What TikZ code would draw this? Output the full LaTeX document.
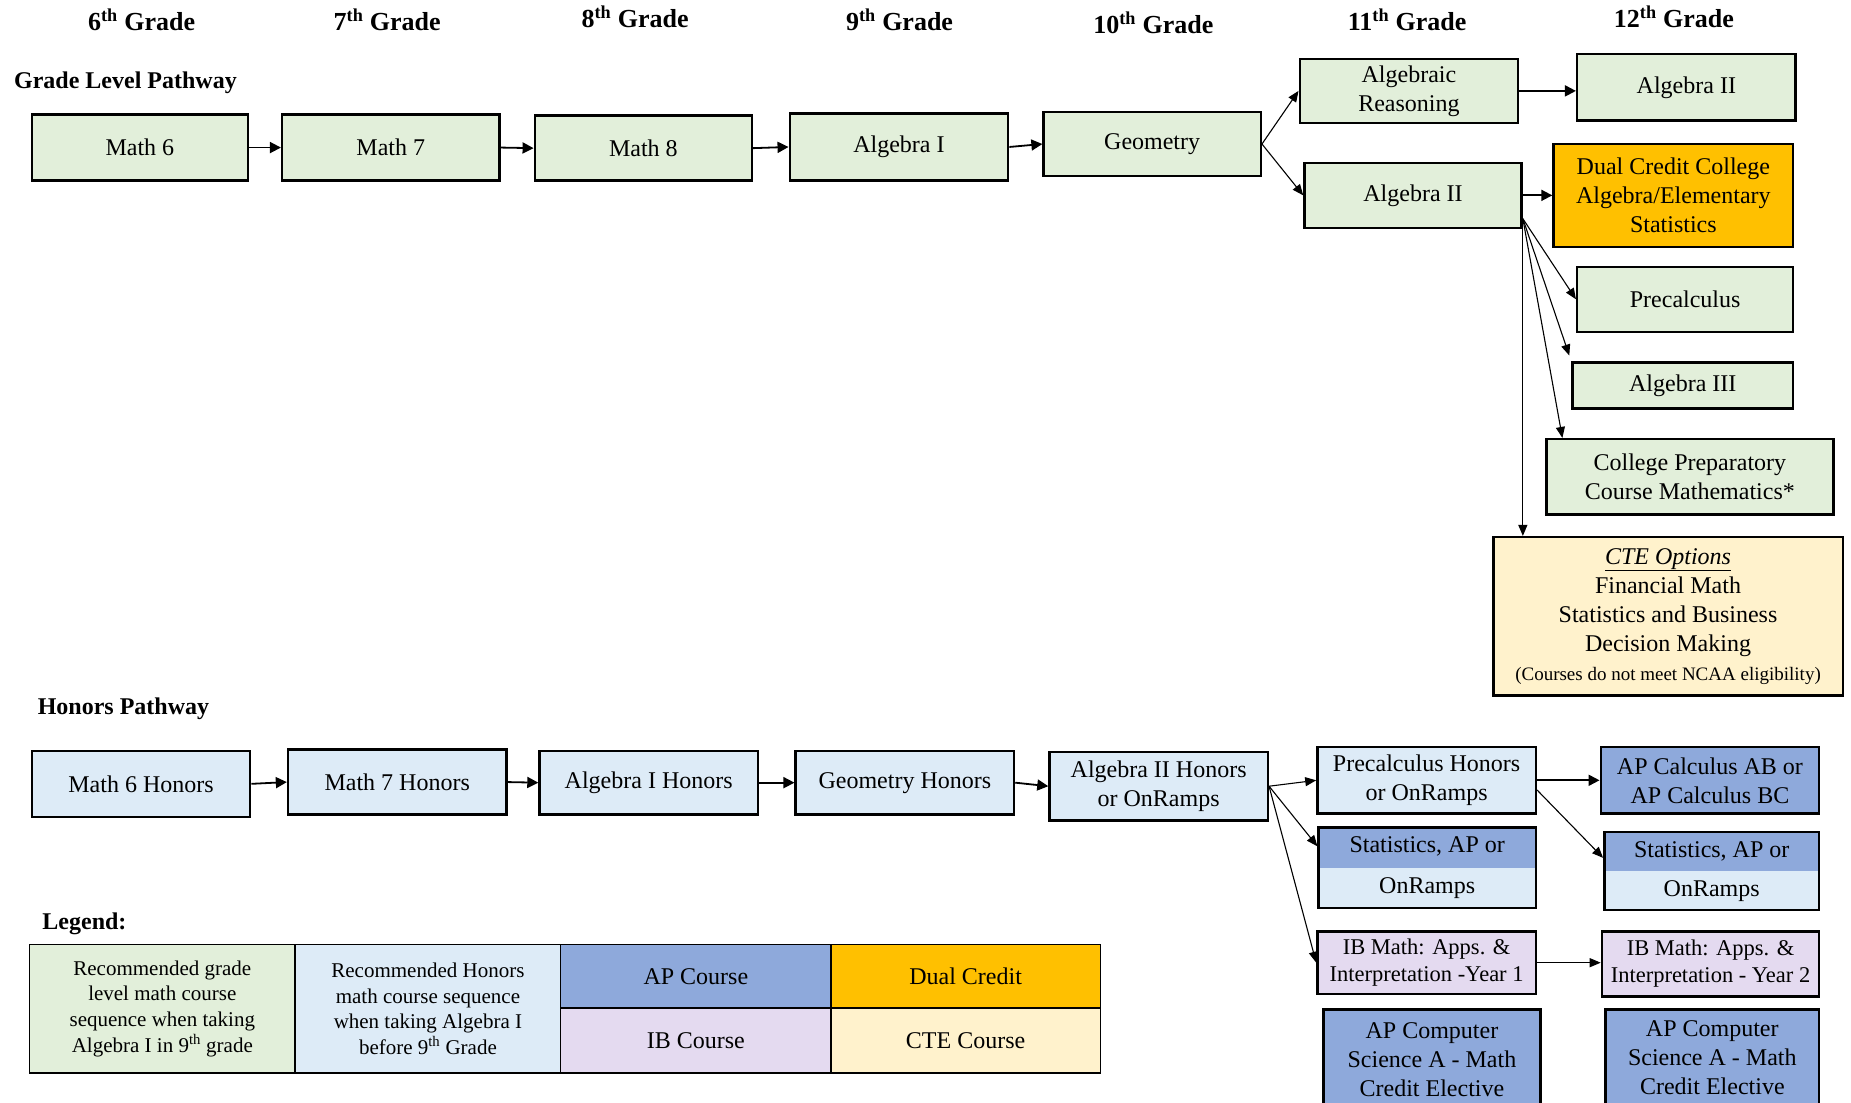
\documentclass[tikz,border=0pt]{standalone}
\usepackage{fontspec}
\setmainfont{Liberation Serif}
\usetikzlibrary{arrows.meta}
\definecolor{grn}{HTML}{E2EFDA}
\definecolor{lblue}{HTML}{DDEBF7}
\definecolor{apblue}{HTML}{8EA9DB}
\definecolor{ibpur}{HTML}{E4DAF0}
\definecolor{dcorange}{HTML}{FFC000}
\definecolor{ctecream}{HTML}{FFF2CC}
\newcommand\bx[7]{%
  \pgfmathsetmacro\bxw{(#5-#3)*1.1805}%
  \pgfmathsetmacro\bxh{(#6-#4)*1.1805}%
  \node[#1, minimum width=\bxw pt, minimum height=\bxh pt] (#2) at ({(#3+#5)/2},{(#4+#6)/2}) {#7};}
\begin{document}
\begin{tikzpicture}[x=1.1805pt,y=-1.1805pt,
  box/.style={draw=black, line width=2.4pt, inner sep=0pt, align=center, font=\fontsize{24}{29}\selectfont},
  gb/.style={box, fill=grn},
  hb/.style={box, fill=lblue},
  ab/.style={box, fill=apblue},
  ibb/.style={box, fill=ibpur, font=\fontsize{22.5}{27}\selectfont},
  statbox/.style={box, fill=lblue, path picture={\fill[apblue] (path picture bounding box.north west) rectangle (path picture bounding box.east);}},
  leg/.style={draw=black, line width=1.3pt, inner sep=0pt, align=center, font=\fontsize{24}{29}\selectfont},
  legsmall/.style={leg, font=\fontsize{21}{25.6}\selectfont},
  arr/.style={line width=1.8pt, -{Triangle[length=11pt,width=11pt]}},
  thinarr/.style={line width=1.1pt, -{Triangle[length=11pt,width=9pt]}},
  hdr/.style={font=\fontsize{26}{30}\selectfont\bfseries, anchor=base},
  title/.style={font=\fontsize{24}{28}\selectfont\bfseries, anchor=base west},
]
\useasboundingbox (0,0) rectangle (1568,934);
\fill[white] (0,0) rectangle (1568,934);
\clip (0,0) rectangle (1568,934);

% headers
\node[hdr] (h6) at (120,26) {6\textsuperscript{th} Grade};
\node[hdr] (h7) at (328,26) {7\textsuperscript{th} Grade};
\node[hdr] (h8) at (538,23) {8\textsuperscript{th} Grade};
\node[hdr] (h9) at (762,26) {9\textsuperscript{th} Grade};
\node[hdr] (h10) at (977,28) {10\textsuperscript{th} Grade};
\node[hdr] (h11) at (1192,26) {11\textsuperscript{th} Grade};
\node[hdr] (h12) at (1418,23) {12\textsuperscript{th} Grade};

\node[title] (tgl) at (9,75) {Grade Level Pathway};
\node[title] (thp) at (29,605) {Honors Pathway};
\node[title] (tlg) at (33,787) {Legend:};

% grade level row
\bx{gb}{m6}{27}{97}{210}{153}{Math 6}
\bx{gb}{m7}{239}{97}{423}{153}{Math 7}
\bx{gb}{m8}{453}{98}{637}{153}{Math 8}
\bx{gb}{a1}{669}{96}{854}{153}{Algebra I}
\bx{gb}{geo}{884}{95}{1068}{149}{Geometry}
\bx{gb}{ar}{1101}{50}{1286}{104}{Algebraic\\Reasoning}
\bx{gb}{a2}{1105}{138}{1289}{193}{Algebra II}
\bx{gb}{a2b}{1336}{46}{1521}{102}{Algebra II}
\bx{box, fill=dcorange}{dual}{1316}{122}{1519}{209}{Dual Credit College\\Algebra/Elementary\\Statistics}
\bx{gb}{pre}{1336}{226}{1519}{281}{Precalculus}
\bx{gb}{a3}{1332}{307}{1519}{346}{Algebra III}
\bx{gb}{cp}{1310}{372}{1553}{436}{College Preparatory\\Course Mathematics*}
\bx{box, fill=ctecream}{cte}{1265}{455}{1561}{589}{\underline{\textit{CTE Options}}\\Financial Math\\Statistics and Business\\Decision Making\\{\fontsize{19}{23}\selectfont (Courses do not meet NCAA eligibility)}}

\draw[arr] (m6.east) -- (m7.west);
\draw[arr] (m7.east) -- (m8.west);
\draw[arr] (m8.east) -- (a1.west);
\draw[arr] (a1.east) -- (geo.west);
\draw[thinarr] (geo.east) -- (ar.west);
\draw[thinarr] (geo.east) -- (a2.west);
\draw[arr] (ar.east) -- (ar.east -| a2b.west);
\draw[arr] (a2.east) -- (a2.east -| dual.west);
\draw[thinarr] (a2.-12) -- (pre.west);
\draw[thinarr, shorten >=6pt] (a2.-12) -- (a3.north west);
\draw[thinarr] (a2.-12) -- (cp.163);
\draw[thinarr] (a2.south east) -- (a2.south east |- cte.north);

% honors row
\bx{hb}{m6h}{27}{636}{212}{692}{Math 6 Honors}
\bx{hb}{m7h}{244}{635}{429}{690}{Math 7 Honors}
\bx{hb}{a1h}{457}{636}{642}{690}{Algebra I Honors}
\bx{hb}{geoh}{674}{636}{859}{690}{Geometry Honors}
\bx{hb}{a2h}{889}{637}{1074}{695}{Algebra II Honors\\or OnRamps}
\bx{hb}{pch}{1116}{633}{1301}{689}{Precalculus Honors\\or OnRamps}
\bx{statbox}{st11}{1117}{701}{1301}{769}{Statistics, AP or\\[12pt]OnRamps}
\bx{ibb}{ib1}{1116}{789}{1301}{842}{IB Math: Apps. \&\\Interpretation -Year 1}
\bx{ab}{cs11}{1121}{855}{1305}{940}{AP Computer\\Science A - Math\\Credit Elective}
\bx{ab}{apc}{1356}{633}{1541}{689}{AP Calculus AB or\\AP Calculus BC}
\bx{statbox}{st12}{1359}{705}{1541}{771}{Statistics, AP or\\[10pt]OnRamps}
\bx{ibb}{ib2}{1357}{789}{1541}{844}{IB Math: Apps. \&\\Interpretation - Year 2}
\bx{ab}{cs12}{1360}{855}{1541}{937}{AP Computer\\Science A - Math\\Credit Elective}

\draw[arr] (m6h.east) -- (m7h.west);
\draw[arr] (m7h.east) -- (a1h.west);
\draw[arr] (a1h.east) -- (geoh.west);
\draw[arr] (geoh.east) -- (a2h.west);
\draw[thinarr] (a2h.east) -- (pch.west);
\draw[thinarr] (a2h.east) -- (st11.169);
\draw[thinarr] (a2h.east) -- (ib1.west);
\draw[arr] (pch.east) -- (pch.east -| apc.west);
\draw[thinarr] (pch.-5) -- (st12.173);
\draw[thinarr] (ib1.east) -- (ib1.east -| ib2.west);

% legend
\bx{legsmall, fill=grn}{l1}{25}{800}{250}{909}{Recommended grade\\level math course\\sequence when taking\\Algebra I in 9\textsuperscript{th} grade}
\bx{legsmall, fill=lblue}{l2}{250}{800}{475}{909}{Recommended Honors\\math course sequence\\when taking Algebra I\\before 9\textsuperscript{th} Grade}
\bx{leg, fill=apblue}{l3a}{475}{800}{704}{854}{AP Course}
\bx{leg, fill=ibpur}{l3b}{475}{854}{704}{909}{IB Course}
\bx{leg, fill=dcorange}{l4a}{704}{800}{932}{854}{Dual Credit}
\bx{leg, fill=ctecream}{l4b}{704}{854}{932}{909}{CTE Course}
\end{tikzpicture}
\end{document}
